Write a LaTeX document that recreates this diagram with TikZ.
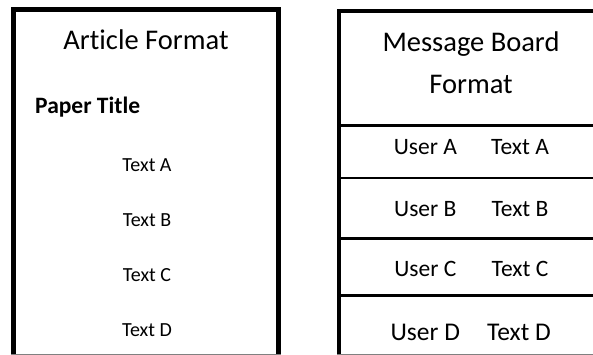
\documentclass[tikz,border=0pt]{standalone}
\usepackage{fontspec}
\setmainfont{Carlito}[Ligatures={NoCommon}]
\tikzset{
  boxline/.style={line width=5pt, line cap=rect},
  rowline/.style={line width=2.5pt},
  title/.style={anchor=base, inner sep=0pt, font=\fontsize{28.5}{34}\selectfont},
  ltext/.style={anchor=base, inner sep=0pt, font=\fontsize{20}{24}\selectfont},
  rtext/.style={anchor=base, inner sep=0pt, font=\fontsize{23.5}{28}\selectfont},
  dtext/.style={anchor=base, inner sep=0pt, font=\fontsize{25.5}{30}\selectfont},
}
\begin{document}
\begin{tikzpicture}[x=1pt,y=-1pt]
\useasboundingbox (0,0) rectangle (593,355);
\fill[white] (0,0) rectangle (593,355);
\begin{scope}
\clip (0,0) rectangle (593,355);
% left box
\coordinate (lbl) at (13.5,360);
\coordinate (ltl) at (13.5,9.5);
\coordinate (ltr) at (278.5,9.5);
\coordinate (lbr) at (278.5,360);
\draw[boxline] (lbl) -- (ltl) -- (ltr) -- (lbr);
\draw[gray, line width=1pt] (11,354.5) -- (281,354.5);
% right box
\coordinate (rbl) at (339,360);
\coordinate (rtl) at (339,11);
\coordinate (rtr) at (600,11);
\draw[line width=4.5pt, line cap=rect] (rbl) -- (rtl) -- (rtr);
\draw[gray, line width=1pt] (337,354.5) -- (600,354.5);
\foreach \y/\n in {125.5/r1,178/r2,238.5/r3,295.5/r4}{
  \coordinate (\n a) at (339,\y);
  \coordinate (\n b) at (600,\y);
  \draw[rowline] (\n a) -- (\n b);
}
\end{scope}
% left texts
\node[title] (af) at (146,50) {Article Format};
\node[anchor=base west, inner sep=0pt, font=\fontsize{23.5}{28}\selectfont\bfseries] (pt) at (35,113.5) {Paper Title};
\node[ltext] (ta) at (147,171.7) {Text A};
\node[ltext] (tb) at (147,226.5) {Text B};
\node[ltext] (tc) at (147,281.7) {Text C};
\node[ltext] (td) at (147,336.7) {Text D};
% right texts
\node[title] (mb1) at (471,51.7) {Message Board};
\node[title] (mb2) at (471,93.3) {Format};
\node[rtext] (ua) at (425.3,155) {User A};
\node[rtext] (xa) at (520,155) {Text A};
\node[rtext] (ub) at (425.3,216.7) {User B};
\node[rtext] (xb) at (520,216.7) {Text B};
\node[rtext] (uc) at (425.3,276.7) {User C};
\node[rtext] (xc) at (520,276.7) {Text C};
\node[dtext] (ud) at (425.3,340) {User D};
\node[dtext] (xd) at (519,340) {Text D};
\end{tikzpicture}
\end{document}
